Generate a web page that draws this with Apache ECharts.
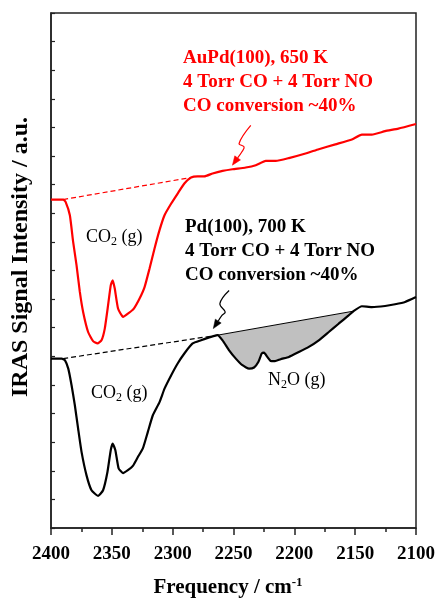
<!DOCTYPE html>
<html>
<head>
<meta charset="utf-8">
<script src="https://cdn.jsdelivr.net/npm/echarts@6/dist/echarts.min.js"></script>
<style>
  html, body { margin: 0; padding: 0; background: #fff; }
  #chart { width: 438px; height: 600px; }
</style>
</head>
<body>
<div id="chart"></div>
<script>
const SERIF = "'Times New Roman', 'Liberation Serif', serif";

// Frequency axis tick labels (cm^-1)
const xTicks = [2400, 2350, 2300, 2250, 2200, 2150, 2100];

// AuPd(100), 650 K spectrum
const auPdFreq = [2400, 2390, 2388, 2384.5, 2381.8, 2379.0, 2376.3, 2373.6, 2369.5, 2365.4, 2361.8, 2358.5,
  2355.8, 2353.1, 2350.9, 2349.3, 2347.6, 2344.9, 2340.8, 2336.8, 2331.9, 2327.2, 2323.1, 2319.0, 2314.9,
  2310.8, 2306.7, 2301.2, 2295.9, 2290.4, 2284.9, 2279.5, 2274.0, 2267.2, 2259.0, 2250.9, 2239.9, 2231.7,
  2223.5, 2215.3, 2204.5, 2190.8, 2179.9, 2166.3, 2152.7, 2144.5, 2136.3, 2125.4, 2114.5, 2100];
const auPdSignal = [11.48, 11.48, 11.40, 10.93, 10.00, 9.18, 8.25, 7.55, 6.85, 6.53, 6.45, 6.56,
  6.97, 7.78, 8.48, 8.66, 8.37, 7.67, 7.38, 7.49, 7.67, 8.02, 8.42, 9.07, 9.77,
  10.41, 10.93, 11.34, 11.69, 12.04, 12.25, 12.29, 12.29, 12.39, 12.48, 12.54, 12.60, 12.68,
  12.83, 12.83, 12.93, 13.09, 13.24, 13.41, 13.58, 13.75, 13.75, 13.87, 13.96, 14.12];

// Pd(100), 700 K spectrum
const pdFreq = [2400, 2391.2, 2388.5, 2385.8, 2383.1, 2380.4, 2377.7, 2374.9, 2370.8, 2366.7,
  2361.3, 2357.2, 2353.6, 2350.9, 2349.3, 2347.1, 2344.4, 2340.8, 2336.8, 2332.7,
  2328.6, 2324.5, 2320.4, 2316.3, 2310.8, 2306.7, 2301.2, 2295.9, 2290.4, 2283.6,
  2276.7, 2268.5, 2263.1, 2259.0, 2253.6, 2248.1, 2242.7, 2237.2, 2233.1, 2229.6,
  2226.8, 2224.9, 2222.2, 2219.5, 2215.9, 2211.3, 2204.5, 2196.3, 2188.1, 2179.9,
  2171.7, 2163.6, 2155.4, 2151.3, 2144.5, 2136.3, 2125.4, 2117.2, 2109.0, 2100];
const pdSignal = [5.92, 5.92, 5.86, 5.57, 4.99, 4.29, 3.47, 2.66, 1.84, 1.32,
  1.12, 1.32, 1.96, 2.72, 2.95, 2.72, 2.08, 1.92, 2.02, 2.17,
  2.48, 2.78, 3.36, 3.94, 4.40, 4.87, 5.34, 5.75, 6.10, 6.45,
  6.56, 6.68, 6.74, 6.56, 6.21, 5.92, 5.69, 5.57, 5.61, 5.80,
  6.10, 6.13, 5.98, 5.84, 5.83, 5.90, 5.98, 6.15, 6.33, 6.56,
  6.85, 7.14, 7.43, 7.58, 7.75, 7.72, 7.76, 7.82, 7.90, 8.07];

// Straight baselines under the CO2 bands
const auPdBaseline = [[2390, 11.48], [2285, 12.25]];
const pdBaseline = [[2390, 5.92], [2263.1, 6.74]];
// Baseline closing the N2O band
const n2oBaseline = [[2263.1, 6.74], [2151.3, 7.58]];

// Squiggle pointers from the labels to the spectra (last point is the arrow tip)
const auPdPointer = [[2235.8, 14.07], [2245.4, 13.44], [2241.3, 13.32], [2243.2, 13.14], [2250.9, 12.68]];
const pdPointer = [[2253.6, 8.30], [2261.2, 7.84], [2256.8, 7.55], [2259.5, 7.43], [2266.6, 6.97]];

const zip = (xs, ys) => xs.map((x, i) => [x, ys[i]]);
const auPdData = zip(auPdFreq, auPdSignal);
const pdData = zip(pdFreq, pdSignal);
const n2oBand = pdData.filter(p => p[0] <= n2oBaseline[0][0] && p[0] >= n2oBaseline[1][0]);

function pointerSeries(points, color) {
  return {
    type: 'custom',
    coordinateSystem: 'cartesian2d',
    silent: true,
    z: 5,
    data: [points[points.length - 1]],
    renderItem(params, api) {
      const px = points.map(p => api.coord(p));
      const tip = px[px.length - 1];
      const prev = px[px.length - 2];
      let dx = tip[0] - prev[0], dy = tip[1] - prev[1];
      const len = Math.hypot(dx, dy) || 1;
      dx /= len; dy /= len;
      const headLen = 9, headHalf = 3.5;
      const base = [tip[0] - dx * headLen, tip[1] - dy * headLen];
      const line = px.slice(0, -1).concat([base]);
      return {
        type: 'group',
        children: [
          { type: 'polyline', shape: { points: line, smooth: 0.4 },
            style: { stroke: color, lineWidth: 1.2, fill: null } },
          { type: 'polygon', shape: { points: [tip,
              [base[0] - dy * headHalf, base[1] + dx * headHalf],
              [base[0] + dy * headHalf, base[1] - dx * headHalf]] },
            style: { fill: color, stroke: color, lineWidth: 0.5 } }
        ]
      };
    }
  };
}

function labelText(x, y, text, rich) {
  return {
    type: 'text', x: x, y: y, silent: true,
    style: { text: text, rich: rich, fill: '#000' }
  };
}

const gasRich = {
  m: { fontFamily: SERIF, fontSize: 18, lineHeight: 22, fill: '#000' },
  s: { fontFamily: SERIF, fontSize: 12, lineHeight: 10, verticalAlign: 'bottom', fill: '#000' }
};

const chart = echarts.init(document.getElementById('chart'), null, { renderer: 'canvas' });

chart.setOption({
  animation: false,
  backgroundColor: '#fff',
  grid: { left: 51, top: 13, right: 20, bottom: 72, show: true, borderColor: '#222', borderWidth: 1.5 },
  xAxis: {
    type: 'value', min: 2100, max: 2400, interval: 50, inverse: true,
    axisLine: { show: true, lineStyle: { color: '#222', width: 1.5 } },
    axisTick: { show: true, inside: false, length: 7, lineStyle: { color: '#222', width: 1.5 } },
    minorTick: { show: true, splitNumber: 2, length: 4, lineStyle: { color: '#222', width: 1.5 } },
    splitLine: { show: false },
    axisLabel: {
      show: true, margin: 17, color: '#000', fontFamily: SERIF, fontWeight: 'bold', fontSize: 19,
      formatter: v => (xTicks.indexOf(v) >= 0 ? String(v) : '')
    }
  },
  yAxis: {
    type: 'value', min: 0, max: 18, interval: 1,
    axisLine: { show: true, lineStyle: { color: '#222', width: 1.5 } },
    axisTick: { show: true, inside: true, length: 4, lineStyle: { color: '#222', width: 1.2 } },
    axisLabel: { show: false },
    splitLine: { show: false }
  },
  series: [
    {
      // shaded N2O band
      type: 'custom', coordinateSystem: 'cartesian2d', silent: true, z: 1,
      data: [n2oBaseline[0]],
      renderItem(params, api) {
        const pts = n2oBand.map(p => api.coord(p));
        const a = api.coord(n2oBaseline[0]), b = api.coord(n2oBaseline[1]);
        return {
          type: 'group',
          children: [
            { type: 'polygon', shape: { points: pts }, style: { fill: '#c0c0c0', stroke: null } },
            { type: 'line', shape: { x1: a[0], y1: a[1], x2: b[0], y2: b[1] },
              style: { stroke: '#000', lineWidth: 1 } }
          ]
        };
      }
    },
    {
      type: 'line', data: auPdBaseline, symbol: 'none', silent: true, z: 2,
      lineStyle: { color: '#ff0000', width: 1.2, type: [5, 3] }
    },
    {
      type: 'line', data: pdBaseline, symbol: 'none', silent: true, z: 2,
      lineStyle: { color: '#000', width: 1.2, type: [5, 3] }
    },
    {
      name: 'AuPd(100)', type: 'line', data: auPdData, symbol: 'none', z: 3, smooth: 0.15,
      lineStyle: { color: '#ff0000', width: 2.2 }
    },
    {
      name: 'Pd(100)', type: 'line', data: pdData, symbol: 'none', z: 3, smooth: 0.15,
      lineStyle: { color: '#000', width: 2.2 }
    },
    pointerSeries(auPdPointer, '#ff0000'),
    pointerSeries(pdPointer, '#000')
  ],
  graphic: [
    {
      type: 'text', left: 183, top: 46, silent: true,
      style: {
        text: 'AuPd(100), 650 K\n4 Torr CO + 4 Torr NO\nCO conversion ~40%',
        font: 'bold 19px ' + SERIF, fill: '#ff0000', lineHeight: 24
      }
    },
    {
      type: 'text', left: 185, top: 215, silent: true,
      style: {
        text: 'Pd(100), 700 K\n4 Torr CO + 4 Torr NO\nCO conversion ~40%',
        font: 'bold 19px ' + SERIF, fill: '#000', lineHeight: 24
      }
    },
    labelText(86, 226, '{m|CO}{s|2}{m| (g)}', gasRich),
    labelText(91, 382, '{m|CO}{s|2}{m| (g)}', gasRich),
    labelText(268, 369, '{m|N}{s|2}{m|O (g)}', gasRich),
    {
      type: 'text', x: 21, y: 257, rotation: Math.PI / 2, silent: true,
      style: {
        text: 'IRAS Signal Intensity / a.u.', font: 'bold 24px ' + SERIF, fill: '#000',
        align: 'center', verticalAlign: 'middle'
      }
    },
    {
      type: 'text', x: 228, y: 588, silent: true,
      style: {
        text: '{m|Frequency / cm}{p|-1}',
        align: 'center', verticalAlign: 'middle',
        rich: {
          m: { fontFamily: SERIF, fontWeight: 'bold', fontSize: 21, lineHeight: 24, fill: '#000' },
          p: { fontFamily: SERIF, fontWeight: 'bold', fontSize: 13, lineHeight: 10, verticalAlign: 'top', fill: '#000' }
        }
      }
    }
  ]
});
</script>
</body>
</html>
